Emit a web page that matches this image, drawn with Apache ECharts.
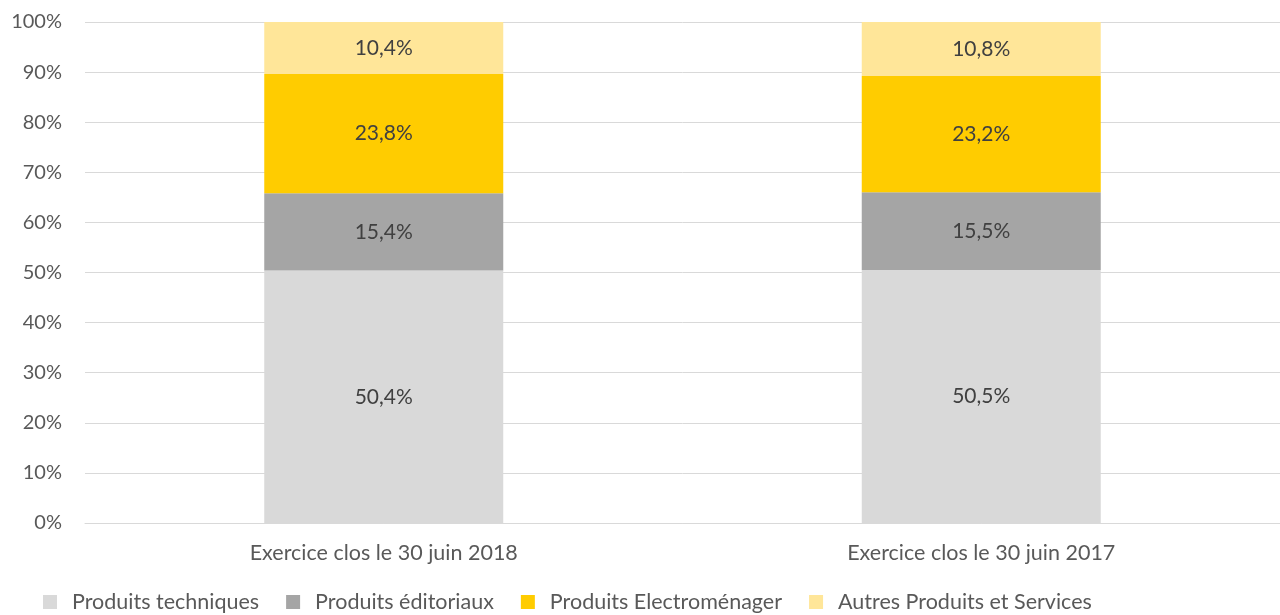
<!DOCTYPE html>
<html>
<head>
<meta charset="utf-8">
<script src="https://cdn.jsdelivr.net/npm/echarts@6/dist/echarts.min.js"></script>
<style>
  html, body { margin: 0; padding: 0; background: #fff; }
  #chart { width: 1280px; height: 615px; }
</style>
</head>
<body>
<div id="chart"></div>
<script>
var categories = ['Exercice clos le 30 juin 2018', 'Exercice clos le 30 juin 2017'];
var seriesNames = ['Produits techniques', 'Produits éditoriaux', 'Produits Electroménager', 'Autres Produits et Services'];
var techniques = [50.4, 50.5];
var editoriaux = [15.4, 15.5];
var electromenager = [23.8, 23.2];
var autres = [10.4, 10.8];
var colors = ['#d9d9d9', '#a5a5a5', '#ffcc00', '#ffe699'];

var myChart = echarts.init(document.getElementById('chart'));
var font = 'Lato, "Open Sans", sans-serif';

var makeSeries = function (name, data, color) {
	return {
		name: name,
		type: 'bar',
		stack: 'total',
		barWidth: '40%',
		data: data,
		itemStyle: { color: color },
		label: {
			show: true,
			position: 'inside',
			color: '#404040',
			fontFamily: font,
			fontSize: 21,
			formatter: function (p) {
				return p.value.toFixed(1).replace('.', ',') + '%';
			}
		}
	};
};

var option = {
	backgroundColor: '#fff',
	animation: false,
	color: colors,
	grid: { left: 85, right: 0, top: 22, bottom: 92, containLabel: false },
	legend: {
		top: 586,
		left: 38,
		padding: 5,
		itemWidth: 14,
		itemHeight: 14,
		itemGap: 27,
		icon: 'rect',
		textStyle: { color: '#595959', fontFamily: font, fontSize: 21.5, padding: [0, 0, 0, 10] },
		data: seriesNames
	},
	xAxis: {
		type: 'category',
		data: categories,
		axisLine: { lineStyle: { color: '#d9d9d9', width: 1 } },
		axisTick: { show: false },
		axisLabel: { color: '#595959', fontFamily: font, fontSize: 21.5, margin: 19 }
	},
	yAxis: {
		type: 'value',
		min: 0,
		max: 100,
		interval: 10,
		axisLine: { show: false },
		axisTick: { show: false },
		splitLine: { lineStyle: { color: '#d9d9d9', width: 1 } },
		axisLabel: {
			color: '#595959', fontFamily: font, fontSize: 20, margin: 23,
			formatter: '{value}%'
		}
	},
	series: [
		makeSeries(seriesNames[0], techniques, colors[0]),
		makeSeries(seriesNames[1], editoriaux, colors[1]),
		makeSeries(seriesNames[2], electromenager, colors[2]),
		makeSeries(seriesNames[3], autres, colors[3])
	]
};
myChart.setOption(option);
</script>
</body>
</html>
